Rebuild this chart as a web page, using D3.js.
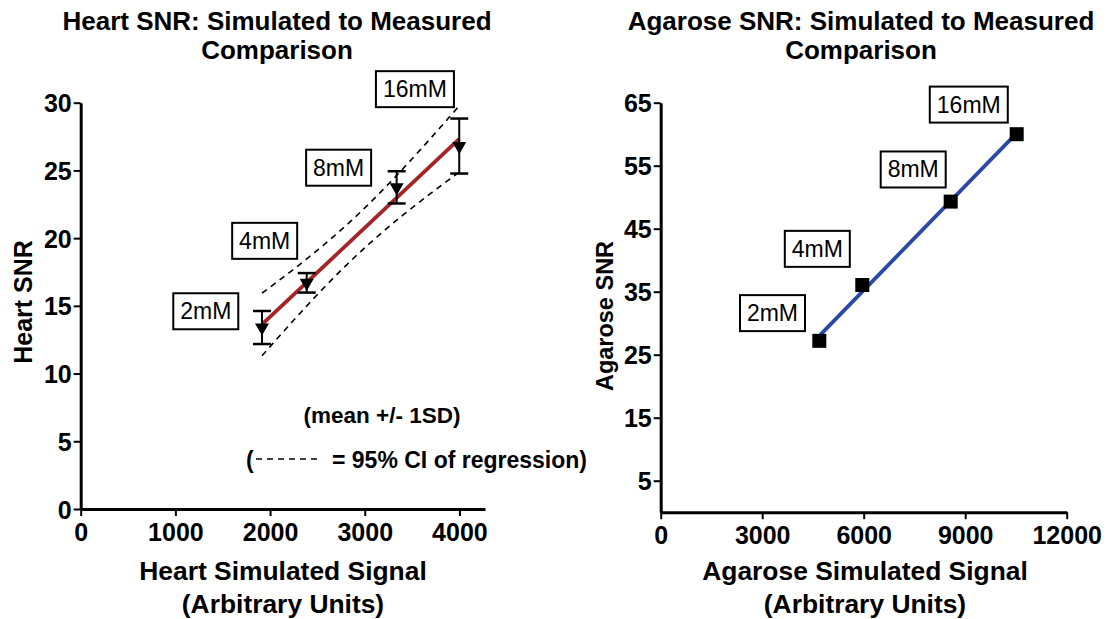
<!DOCTYPE html>
<html>
<head>
<meta charset="utf-8">
<script src="https://cdn.jsdelivr.net/npm/d3@7"></script>
<style>
  body { margin: 0; background: #fff; }
  svg { font-family: "Liberation Sans", Arial, sans-serif; }
</style>
</head>
<body>
<div class="chart"></div>
<script>
// heart panel data (mean +/- 1SD)
var heartLabels = ["2mM", "4mM", "8mM", "16mM"];
var heartSignal = [1915, 2387, 3337, 3998];
var heartSNR = [13.4, 16.7, 23.75, 26.8];
var heartSD = [1.22, 0.72, 1.19, 2.03];
// label box anchors (data coords)
var heartLabelX = [1321, 1943, 2724, 3530];
var heartLabelY = [14.6, 19.8, 25.2, 31.0];

// agarose panel data
var agaroseLabels = ["2mM", "4mM", "8mM", "16mM"];
var agaroseSignal = [4688, 5958, 8571, 10522];
var agaroseSNR = [27.2, 36.06, 49.3, 60.0];
var agaroseLabelX = [3304, 4629, 7463, 9106];
var agaroseLabelY = [31.6, 41.8, 54.4, 64.7];

var heartXTicks = [0, 1000, 2000, 3000, 4000];
var heartYTicks = [0, 5, 10, 15, 20, 25, 30];
var agaroseXTicks = [0, 3000, 6000, 9000, 12000];
var agaroseYTicks = [5, 15, 25, 35, 45, 55, 65];

var w = 1113, h = 619;

var svg = d3.select("div.chart")
  .append("svg")
  .attr("width", w)
  .attr("height", h);

//simple least squares fit
function linFit(xs, ys){
  var n = xs.length;
  var mx = d3.mean(xs), my = d3.mean(ys);
  var sxx = d3.sum(xs, function(x){ return (x-mx)*(x-mx); });
  var sxy = d3.sum(xs, function(x,i){ return (x-mx)*(ys[i]-my); });
  var b = sxy/sxx, a = my - b*mx;
  var sse = d3.sum(xs, function(x,i){ var r = ys[i]-(a+b*x); return r*r; });
  var s = Math.sqrt(sse/(n-2));
  return {a:a, b:b, mx:mx, sxx:sxx, s:s, n:n};
}

function drawAxes(g, x, y, xTicks, yTicks){
  var xAxis = g.append("g")
    .attr("transform", "translate(0," + y.range()[0] + ")")
    .call(d3.axisBottom(x).tickValues(xTicks).tickFormat(d3.format("d")).tickSize(7).tickSizeOuter(0));
  var yAxis = g.append("g")
    .attr("transform", "translate(" + x.range()[0] + ",0)")
    .call(d3.axisLeft(y).tickValues(yTicks).tickFormat(d3.format("d")).tickSize(7).tickSizeOuter(0).tickPadding(2));
  [xAxis, yAxis].forEach(function(a){
    a.select(".domain").attr("stroke", "#000").attr("stroke-width", 3);
    a.selectAll(".tick line").attr("stroke", "#000").attr("stroke-width", 2);
    a.selectAll(".tick text")
      .attr("fill", "#000")
      .style("font-size", "25px")
      .style("font-weight", "bold");
  });
  xAxis.selectAll(".tick text").attr("y", 14).attr("dy", "0.71em");
  yAxis.selectAll(".tick text").attr("dy", "0.36em");
}

function labelBoxes(g, x, y, labels, lx, ly){
  labels.forEach(function(t, i){
    var cx = x(lx[i]), cy = y(ly[i]);
    var bw = t.length > 3 ? 78 : 65;
    g.append("rect")
      .attr("x", cx - bw/2).attr("y", cy - 18)
      .attr("width", bw).attr("height", 36)
      .attr("fill", "#fff")
      .attr("stroke", "#000")
      .attr("stroke-width", 2);
    g.append("text")
      .attr("x", cx).attr("y", cy + 8)
      .attr("text-anchor", "middle")
      .style("font-size", "23px")
      .text(t);
  });
}

function titleText(g, cx, lines, y0){
  lines.forEach(function(t, i){
    g.append("text")
      .attr("x", cx).attr("y", y0 + i*29)
      .attr("text-anchor", "middle")
      .style("font-size", "26px")
      .style("font-weight", "bold")
      .text(t);
  });
}

function axisTitles(g, cx, xLines, yx, yy, yText, ySize){
  xLines.forEach(function(t, i){
    g.append("text")
      .attr("x", cx).attr("y", 580 + i*33)
      .attr("text-anchor", "middle")
      .style("font-size", "26.4px").style("font-weight", "bold")
      .text(t);
  });
  g.append("text")
    .attr("transform", "translate(" + yx + "," + yy + ") rotate(-90)")
    .attr("text-anchor", "middle")
    .style("font-size", ySize).style("font-weight", "bold")
    .text(yText);
}

// ---------- heart panel ----------
var hx = d3.scaleLinear().domain([0, 4270]).range([80.7, 485]);
var hy = d3.scaleLinear().domain([0, 30]).range([509, 102.7]);
var hg = svg.append("g");

titleText(hg, 277, ["Heart SNR: Simulated to Measured", "Comparison"], 30);
drawAxes(hg, hx, hy, heartXTicks, heartYTicks);

var hfit = linFit(heartSignal, heartSNR);
var tcrit = 4.303; // t(0.975, df=2)
var xs = d3.range(81).map(function(i){
  return d3.min(heartSignal) + i*(d3.max(heartSignal)-d3.min(heartSignal))/80;
});
function ci(x, sign){
  var se = hfit.s*Math.sqrt(1/hfit.n + (x-hfit.mx)*(x-hfit.mx)/hfit.sxx);
  return hfit.a + hfit.b*x + sign*tcrit*se;
}
[1, -1].forEach(function(sg){
  hg.append("path")
    .datum(xs)
    .attr("d", d3.line().x(function(d){ return hx(d); }).y(function(d){ return hy(ci(d, sg)); }))
    .attr("fill", "none")
    .attr("stroke", "#000")
    .attr("stroke-width", 1.6)
    .attr("stroke-dasharray", "6,5");
});

hg.append("line")
  .attr("x1", hx(d3.min(heartSignal))).attr("y1", hy(hfit.a + hfit.b*d3.min(heartSignal)))
  .attr("x2", hx(d3.max(heartSignal))).attr("y2", hy(hfit.a + hfit.b*d3.max(heartSignal)))
  .attr("stroke", "#a32526")
  .attr("stroke-width", 3.8);

heartSignal.forEach(function(sx, i){
  var px = hx(sx);
  var top = hy(heartSNR[i] + heartSD[i]), bot = hy(heartSNR[i] - heartSD[i]);
  hg.append("line").attr("x1", px).attr("x2", px).attr("y1", top).attr("y2", bot)
    .attr("stroke", "#000").attr("stroke-width", 2);
  [top, bot].forEach(function(yy){
    hg.append("line").attr("x1", px-9).attr("x2", px+9).attr("y1", yy).attr("y2", yy)
      .attr("stroke", "#000").attr("stroke-width", 2.5);
  });
  hg.append("path")
    .attr("d", d3.symbol().type(d3.symbolTriangle).size(85)())
    .attr("transform", "translate(" + px + "," + hy(heartSNR[i]) + ") rotate(180)")
    .attr("fill", "#000");
});

labelBoxes(hg, hx, hy, heartLabels, heartLabelX, heartLabelY);

hg.append("text")
  .attr("x", 382).attr("y", 423)
  .attr("text-anchor", "middle")
  .style("font-size", "22.5px").style("font-weight", "bold")
  .text("(mean +/- 1SD)");
hg.append("text")
  .attr("x", 246).attr("y", 468)
  .style("font-size", "23px").style("font-weight", "bold")
  .text("(");
hg.append("line")
  .attr("x1", 256).attr("x2", 320).attr("y1", 459).attr("y2", 459)
  .attr("stroke", "#000").attr("stroke-width", 1.6).attr("stroke-dasharray", "6,5");
hg.append("text")
  .attr("x", 332).attr("y", 468)
  .style("font-size", "23px").style("font-weight", "bold")
  .text("= 95% CI of regression)");

axisTitles(hg, 283, ["Heart Simulated Signal", "(Arbitrary Units)"], 32, 302, "Heart SNR", "25px");

// ---------- agarose panel ----------
var ax = d3.scaleLinear().domain([0, 12000]).range([660.7, 1066.7]);
var ay = d3.scaleLinear().domain([0, 65]).range([512.2, 102.7]);
var ag = svg.append("g");

titleText(ag, 861, ["Agarose SNR: Simulated to Measured", "Comparison"], 30);
drawAxes(ag, ax, ay, agaroseXTicks, agaroseYTicks);

var afit = linFit(agaroseSignal, agaroseSNR);
ag.append("line")
  .attr("x1", ax(d3.min(agaroseSignal))).attr("y1", ay(afit.a + afit.b*d3.min(agaroseSignal)))
  .attr("x2", ax(d3.max(agaroseSignal))).attr("y2", ay(afit.a + afit.b*d3.max(agaroseSignal)))
  .attr("stroke", "#2a48a4")
  .attr("stroke-width", 3.8);

ag.selectAll(".pt")
  .data(agaroseSignal)
  .enter()
  .append("rect")
    .attr("x", function(d){ return ax(d) - 7; })
    .attr("y", function(d, i){ return ay(agaroseSNR[i]) - 7; })
    .attr("width", 14).attr("height", 14)
    .attr("fill", "#000");

labelBoxes(ag, ax, ay, agaroseLabels, agaroseLabelX, agaroseLabelY);

axisTitles(ag, 865, ["Agarose Simulated Signal", "(Arbitrary Units)"], 613, 316, "Agarose SNR", "23.5px");
</script>
</body>
</html>
